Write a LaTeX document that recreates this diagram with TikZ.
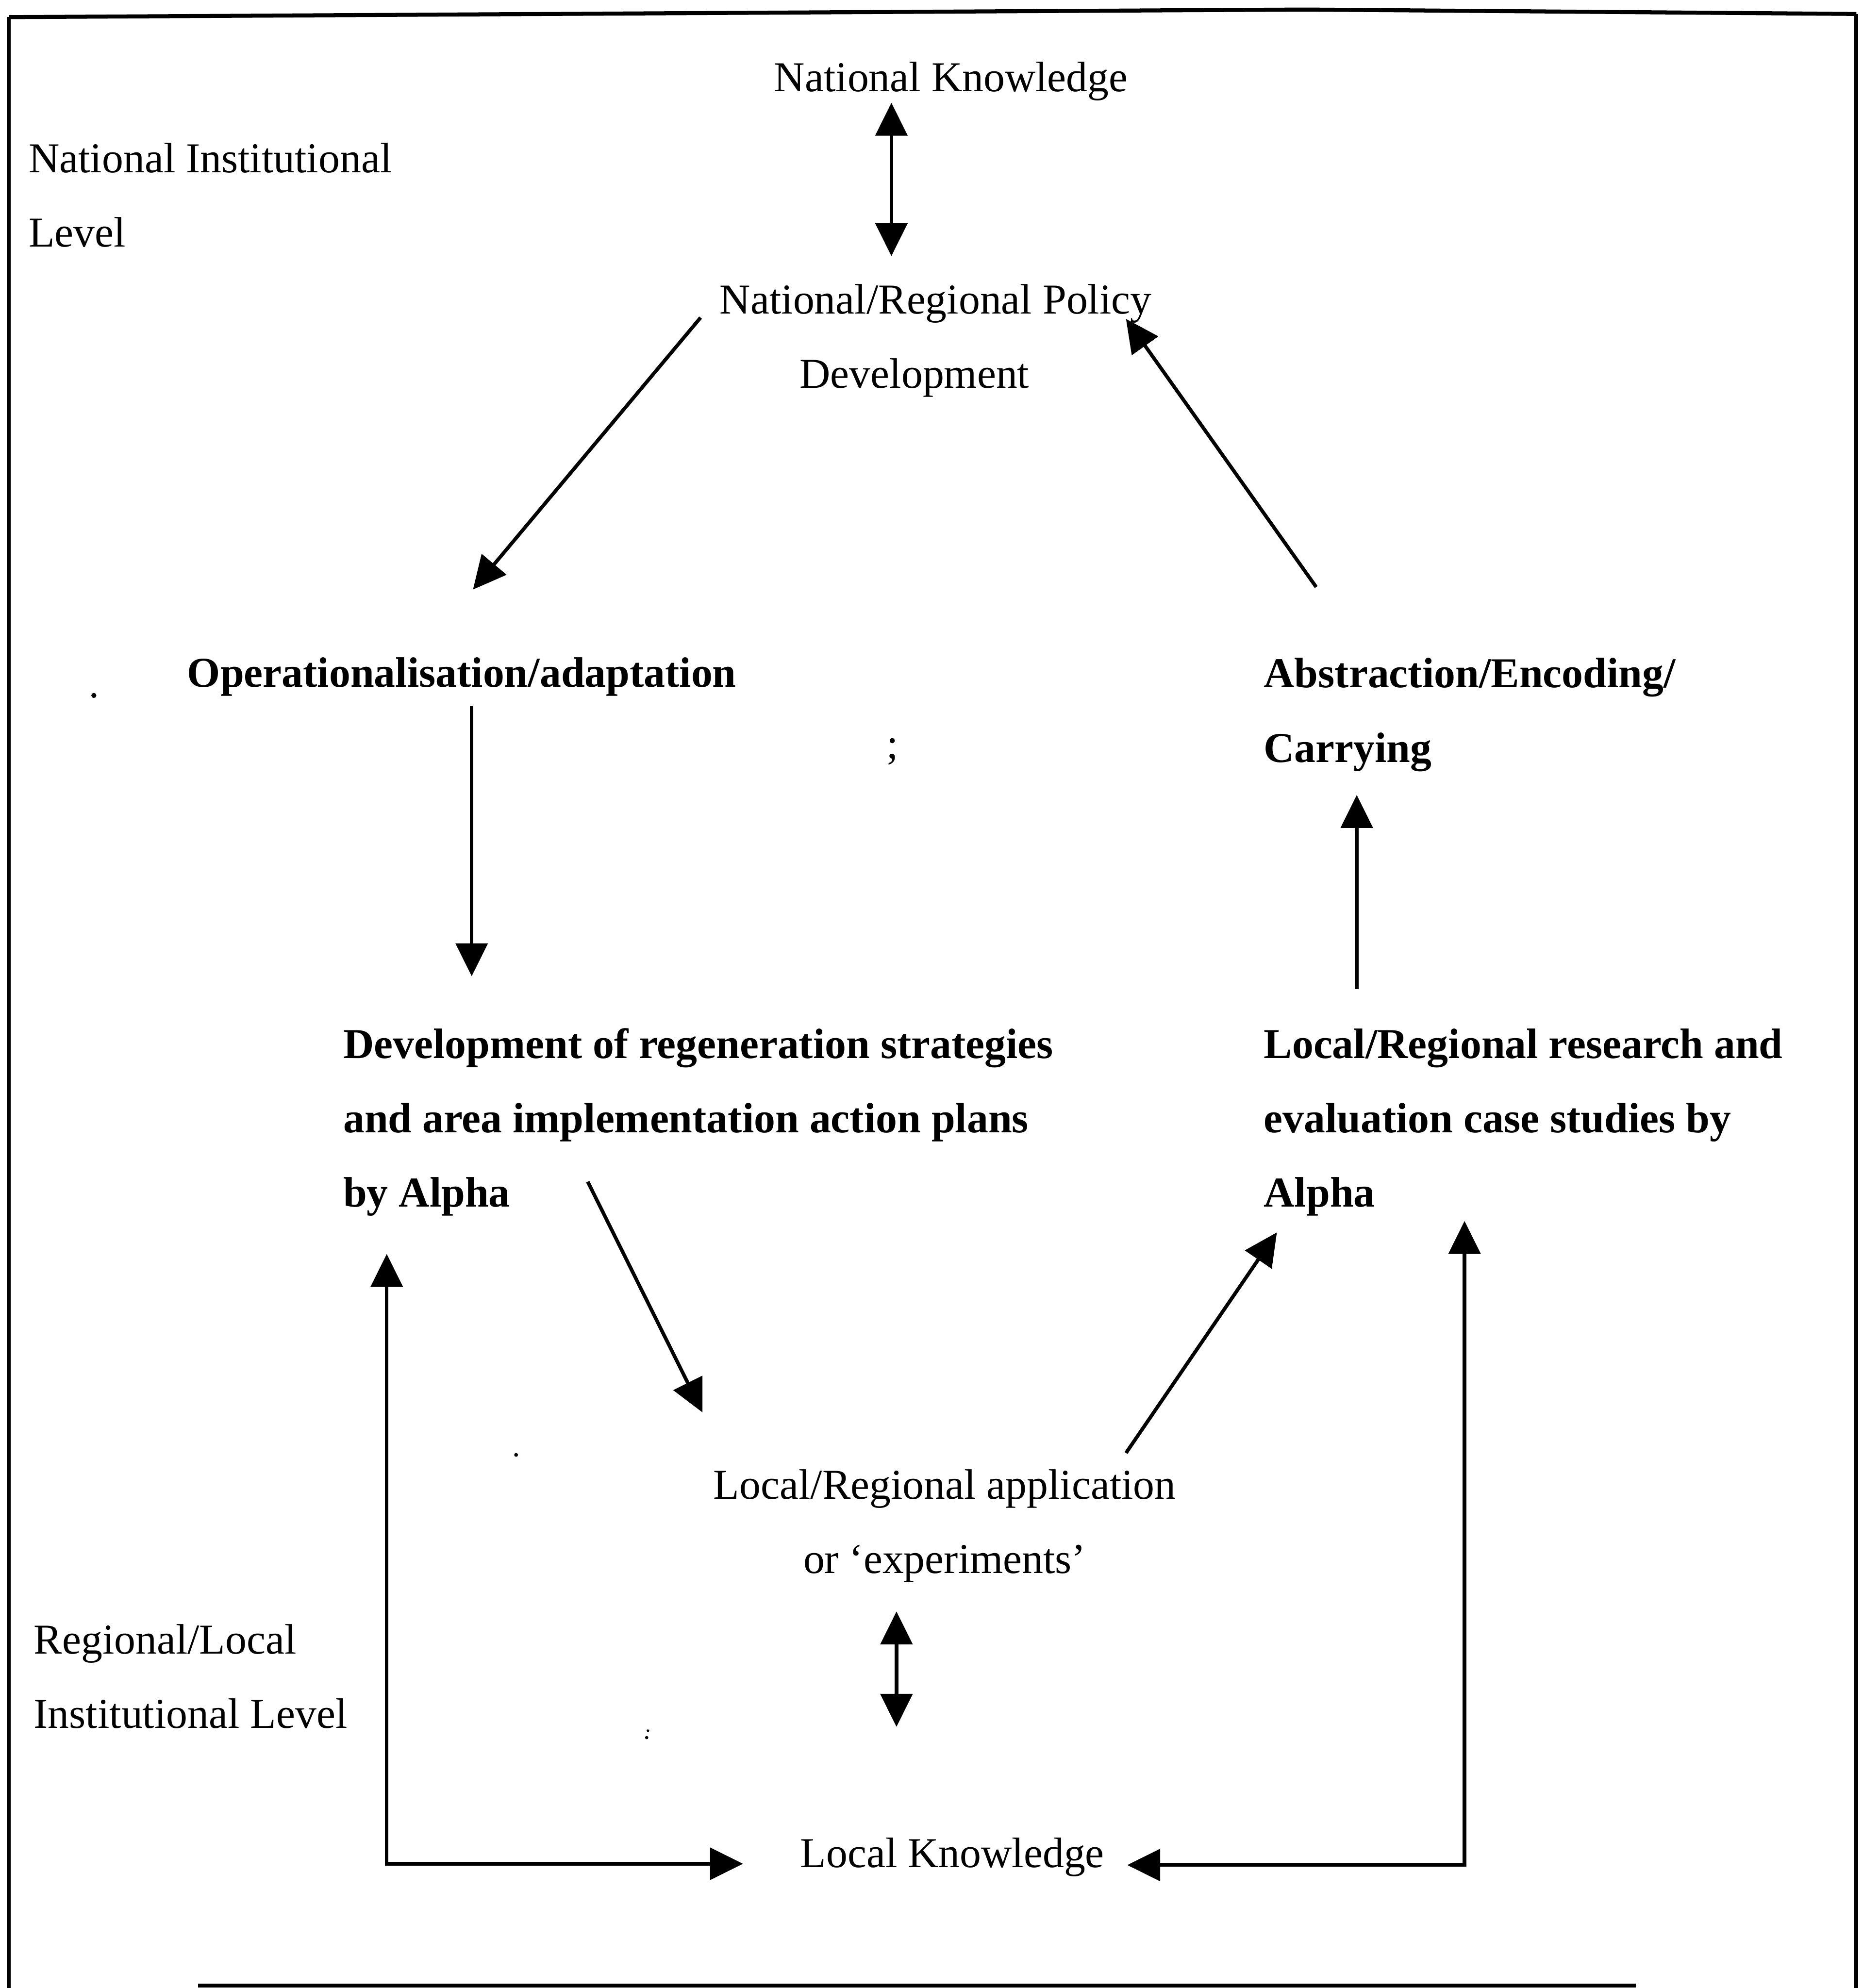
\documentclass[tikz,border=0pt]{standalone}
\usepackage{fontspec}
\setmainfont{Liberation Serif}
\usetikzlibrary{arrows.meta}
\begin{document}
\begin{tikzpicture}[x=0.01cm,y=-0.01cm,
  lbl/.style={inner sep=0pt, font=\fontsize{9.55pt}{16.67pt}\selectfont},
  blbl/.style={inner sep=0pt, font=\fontsize{9.55pt}{16.67pt}\selectfont\bfseries},
  tipshape/.tip={Triangle[length=0.26cm,width=0.25cm]},
  flow/.style={line width=0.8pt, -tipshape},
  twoway/.style={line width=0.8pt, tipshape-tipshape},
  frameline/.style={line width=0.9pt},
  speck/.style={circle, fill, inner sep=0pt, minimum size=#1}]
\useasboundingbox (0,0) rectangle (1469,1568);

% outer frame
\draw[frameline] (7,13.5) -- (1029,7.5) -- (1464,11);
\draw[frameline] (7,13.5) -- (7,1568);
\draw[frameline] (1464,11) -- (1464,1568);
\draw[frameline] (156,1566) -- (1290,1566);

% labels (multi-line nodes are placed by the baseline of their last line)
\node[lbl, anchor=base] (nk) at (750,72) {National Knowledge};
\node[lbl, anchor=base west, align=left] (nil) at (22,194.6) {National Institutional\\Level};
\node[lbl, anchor=base west, align=left] (pol) at (567,306) {National/Regional Policy\\\hspace*{0.63cm}Development};
\node[blbl, anchor=base west] (oper) at (147,542) {Operationalisation/adaptation};
\node[blbl, anchor=base west, align=left] (abs) at (996,601) {Abstraction/Encoding/\\Carrying};
\node[blbl, anchor=base west, align=left] (dev) at (270,952) {Development of regeneration strategies\\and area implementation action plans\\by Alpha};
\node[blbl, anchor=base west, align=left] (res) at (996,952) {Local/Regional research and\\evaluation case studies by\\Alpha};
\node[lbl, anchor=base, align=center] (app) at (745,1241) {Local/Regional application\\or ‘experiments’};
\node[lbl, anchor=base west, align=left] (rll) at (26,1363) {Regional/Local\\Institutional Level};
\node[lbl, anchor=base] (lk) at (751,1473) {Local Knowledge};

% small marks
\node[lbl, anchor=base] (semi) at (704,598) {;};
\node[speck=0.04cm] (s1) at (74,548.5) {};
\node[speck=0.03cm] (s2) at (407,1147.5) {};
\node[speck=0.02cm] (s3) at (511,1365) {};
\node[speck=0.026cm] (s4) at (510,1370.5) {};

% connector ends
\coordinate (nk-s) at (703,81);
\coordinate (pol-n) at (703,202);
\coordinate (pol-sw) at (552.5,250.5);
\coordinate (oper-n) at (373,465);
\coordinate (abs-n) at (1038,463);
\coordinate (pol-se) at (888,251.5);
\coordinate (oper-s) at (372,557);
\coordinate (dev-n) at (372,770);
\coordinate (res-n) at (1070,780);
\coordinate (abs-s) at (1070,627);
\coordinate (dev-se) at (463.5,932);
\coordinate (app-nw) at (554,1114);
\coordinate (app-ne) at (888,1146);
\coordinate (res-sw) at (1007,972);
\coordinate (app-s) at (707,1271);
\coordinate (lk-n) at (707,1362);
\coordinate (dev-s) at (305,989);
\coordinate (lk-w) at (586,1470);
\coordinate (lk-e) at (889,1471);
\coordinate (res-s) at (1155,963);

% connectors
\draw[twoway] (nk-s) -- (pol-n);
\draw[flow] (pol-sw) -- (oper-n);
\draw[flow] (abs-n) -- (pol-se);
\draw[flow] (oper-s) -- (dev-n);
\draw[flow] (res-n) -- (abs-s);
\draw[flow] (dev-se) -- (app-nw);
\draw[flow] (app-ne) -- (res-sw);
\draw[twoway] (app-s) -- (lk-n);
\draw[twoway] (dev-s) |- (lk-w);
\draw[twoway] (lk-e) -| (res-s);
\end{tikzpicture}
\end{document}
